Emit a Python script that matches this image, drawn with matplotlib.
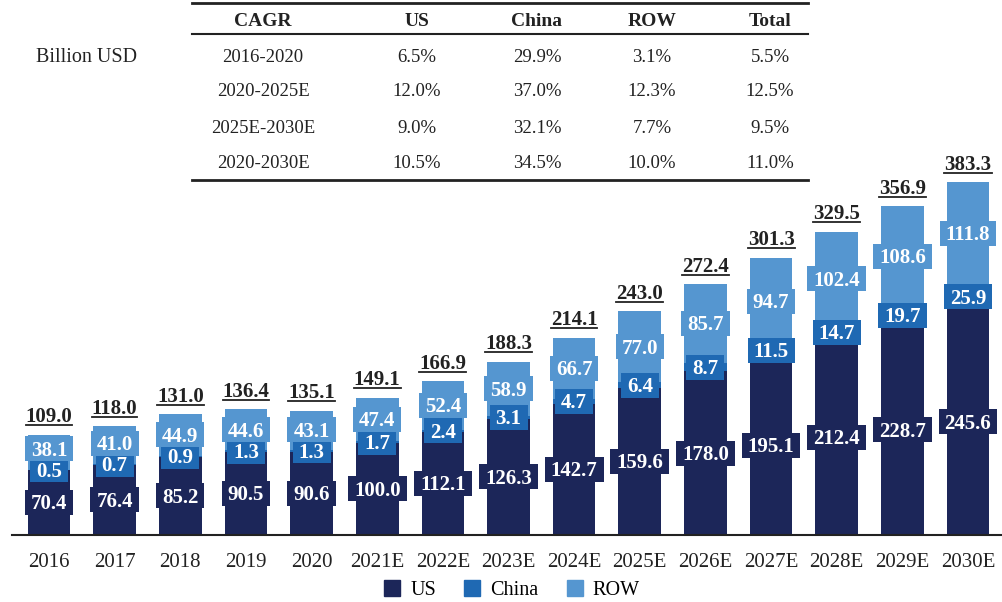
import matplotlib
matplotlib.use('Agg')
import matplotlib.pyplot as plt
from matplotlib.lines import Line2D
from matplotlib.patches import Rectangle

plt.rcParams['font.family'] = ['Liberation Serif', 'DejaVu Serif']

years = ['2016', '2017', '2018', '2019', '2020', '2021E', '2022E', '2023E',
         '2024E', '2025E', '2026E', '2027E', '2028E', '2029E', '2030E']
us = [70.4, 76.4, 85.2, 90.5, 90.6, 100.0, 112.1, 126.3, 142.7, 159.6, 178.0, 195.1, 212.4, 228.7, 245.6]
china = [0.5, 0.7, 0.9, 1.3, 1.3, 1.7, 2.4, 3.1, 4.7, 6.4, 8.7, 11.5, 14.7, 19.7, 25.9]
row = [38.1, 41.0, 44.9, 44.6, 43.1, 47.4, 52.4, 58.9, 66.7, 77.0, 85.7, 94.7, 102.4, 108.6, 111.8]
total = [109.0, 118.0, 131.0, 136.4, 135.1, 149.1, 166.9, 188.3, 214.1, 243.0, 272.4, 301.3, 329.5, 356.9, 383.3]

cagr_header = ['CAGR', 'US', 'China', 'ROW', 'Total']
cagr_periods = ['2016-2020', '2020-2025E', '2025E-2030E', '2020-2030E']
cagr_us = ['6.5%', '12.0%', '9.0%', '10.5%']
cagr_china = ['29.9%', '37.0%', '32.1%', '34.5%']
cagr_row = ['3.1%', '12.3%', '7.7%', '10.0%']
cagr_total = ['5.5%', '12.5%', '9.5%', '11.0%']

c_us, c_cn, c_row = '#1c2659', '#1f69b3', '#5596d0'
W, H = 1002, 602
px_y = 0.921            # pixels per billion USD
xmin, xmax = -0.564, 14.518
px_x = 990 / (xmax - xmin)

fig = plt.figure(figsize=(10.02, 6.02), dpi=100)
# axes: baseline at y=535px, x from 12px to 1002px
ax = fig.add_axes([12 / W, (H - 535) / H, 990 / W, 535 / H])
x = list(range(len(years)))
bw = 0.65
ax.bar(x, us, bw, color=c_us)
ax.bar(x, china, bw, bottom=us, color=c_cn)
bot2 = [a + b for a, b in zip(us, china)]
ax.bar(x, row, bw, bottom=bot2, color=c_row)
ax.set_xlim(xmin, xmax)
ax.set_ylim(0, 535 / px_y)
for s in ['top', 'right', 'left']:
    ax.spines[s].set_visible(False)
ax.spines['bottom'].set_linewidth(1.5)
ax.spines['bottom'].set_color('#222222')
ax.set_yticks([])
ax.set_xticks(x)
ax.set_xticklabels(years, fontsize=15, color='#222222')
ax.tick_params(axis='x', length=0, pad=13)

# segment labels (visual centre), pushed apart when too close
gap = 23
fs = 15
digit_h = 0.66 * fs * 100 / 72 / px_y   # digit height in data units
labels = []
for i in x:
    y_us = us[i] / 2
    y_cn = us[i] + china[i] / 2
    y_rw = bot2[i] + row[i] / 2
    y_cn = max(y_cn, y_us + gap)
    y_rw = max(y_rw, y_cn + gap)
    for yy, v, c in [(y_us, us[i], c_us), (y_cn, china[i], c_cn), (y_rw, row[i], c_row)]:
        t = ax.text(i, yy - digit_h / 2, f'{v:.1f}', ha='center', va='baseline', fontsize=fs,
                    fontweight='bold', color='white', zorder=5)
        labels.append((t, i, yy, c))

tot_texts = []
for i in x:
    t = ax.text(i, total[i] + 8, f'{total[i]:.1f}', ha='center', va='bottom',
                fontsize=15, fontweight='bold', color='#222222')
    tot_texts.append(t)

# legend
handles = [Rectangle((0, 0), 1, 1, color=c) for c in (c_us, c_cn, c_row)]
fig.legend(handles, ['US', 'China', 'ROW'], loc='center', bbox_to_anchor=(0.511, 1 - 590 / H),
           ncol=3, frameon=False, fontsize=14.5, handlelength=0.8, handleheight=0.8,
           columnspacing=1.4, handletextpad=0.5)

# CAGR table
col_x = [263, 417, 537, 652, 770]
row_y = [22, 57, 92, 128, 164]
for cx, h in zip(col_x, cagr_header):
    fig.text(cx / W, 1 - row_y[0] / H, h, ha='center', va='center', fontsize=14,
             fontweight='bold', color='#222222')
cols = [cagr_periods, cagr_us, cagr_china, cagr_row, cagr_total]
for cx, col in zip(col_x, cols):
    for ry, v in zip(row_y[1:], col):
        fig.text(cx / W, 1 - ry / H, v, ha='center', va='center', fontsize=13.5, color='#222222')
for ly, lw in [(3, 2.0), (34, 1.5), (180, 2.0)]:
    fig.add_artist(Line2D([192 / W, 808 / W], [1 - ly / H, 1 - ly / H], color='#222222', lw=lw))
fig.text(86 / W, 1 - 57 / H, 'Billion USD', ha='center', va='center', fontsize=14.5, color='#222222')

# boxes behind segment labels, underline under totals
fig.canvas.draw()
r = fig.canvas.get_renderer()
box_h = 25 / px_y
for t, i, yy, c in labels:
    bb = t.get_window_extent(renderer=r)
    wd = (bb.width + 12) / px_x
    ax.add_patch(Rectangle((i - wd / 2, yy - box_h / 2), wd, box_h, fc=c, ec='none', zorder=4))
for t in tot_texts:
    bb = t.get_window_extent(renderer=r)
    yl = (bb.y0 + 2) / fig.bbox.height
    fig.add_artist(Line2D([bb.x0 / fig.bbox.width, bb.x1 / fig.bbox.width], [yl, yl],
                          color='#222222', lw=1.3))

fig.savefig('out.png', dpi=100)
